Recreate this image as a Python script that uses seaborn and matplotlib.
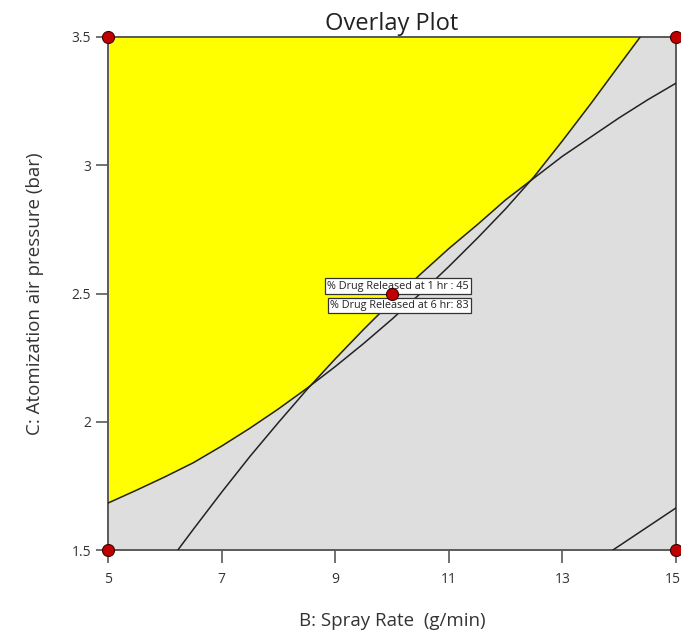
import matplotlib
matplotlib.use("Agg")
import matplotlib.pyplot as plt
from matplotlib.transforms import ScaledTranslation
import seaborn as sns
import pandas as pd

# Contour of the first response (sweeps up from the left edge)
contour_a_x = [5.0, 5.5, 6.0, 6.5, 7.0, 7.5, 8.0, 8.5, 9.0, 9.5, 10.0, 10.5,
               11.0, 11.5, 12.0, 12.5, 13.0, 13.5, 14.0, 14.37]
contour_a_y = [1.683, 1.733, 1.785, 1.84, 1.905, 1.975, 2.05, 2.13, 2.215, 2.305, 2.40, 2.50,
               2.605, 2.715, 2.83, 2.955, 3.095, 3.24, 3.39, 3.5]

# Contour of the second response (rises from the bottom edge)
contour_b_x = [6.23, 6.5, 7.0, 7.5, 8.0, 8.5, 9.0, 9.5, 10.0, 10.5, 11.0, 11.5,
               12.0, 12.5, 13.0, 13.5, 14.0, 14.5, 15.0]
contour_b_y = [1.5, 1.58, 1.725, 1.865, 1.997, 2.125, 2.245, 2.36, 2.47, 2.575, 2.675, 2.768,
               2.865, 2.95, 3.035, 3.11, 3.185, 3.255, 3.32]

# Limit contour in the high spray-rate / low pressure corner
contour_c_x = [13.89, 15.0]
contour_c_y = [1.5, 1.664]

# Where the two response contours cross
cross_lo, cross_hi = 8.55, 12.45

# Design points
design_x = [5, 5, 15, 15, 10]
design_y = [1.5, 3.5, 1.5, 3.5, 2.5]

# Flagged point and its readouts
flag_x, flag_y = 10, 2.5
flag_labels = ["% Drug Released at 1 hr : 45", "% Drug Released at 6 hr: 83"]

x_ticks = [5, 7, 9, 11, 13, 15]
y_ticks = [1.5, 2, 2.5, 3, 3.5]
y_tick_labels = ["1.5", "2", "2.5", "3", "3.5"]

sns.set_theme(style="ticks")
plt.rcParams["font.family"] = ["Open Sans", "DejaVu Sans"]

fig = plt.figure(figsize=(6.81, 6.33), dpi=100)
ax = fig.add_axes([108 / 681, 1 - 550 / 633, 568 / 681, 513 / 633])
ax.set_facecolor("#dedede")

# Yellow design space: above both response contours
edge_x, edge_y = [], []
for x, y in zip(contour_a_x, contour_a_y):
    if x <= cross_lo:
        edge_x.append(x); edge_y.append(y)
for x, y in zip(contour_b_x, contour_b_y):
    if cross_lo < x < cross_hi:
        edge_x.append(x); edge_y.append(y)
for x, y in zip(contour_a_x, contour_a_y):
    if x >= cross_hi:
        edge_x.append(x); edge_y.append(y)
ax.fill_between(edge_x, edge_y, 3.5, color="#ffff00", linewidth=0, zorder=1)

line_kw = dict(color="#222222", linewidth=1.1, sort=False, estimator=None, zorder=3)
sns.lineplot(x=contour_a_x, y=contour_a_y, ax=ax, **line_kw)
sns.lineplot(x=contour_b_x, y=contour_b_y, ax=ax, **line_kw)
sns.lineplot(x=contour_c_x, y=contour_c_y, ax=ax, **line_kw)

pts = pd.DataFrame({"x": design_x, "y": design_y})
sns.scatterplot(data=pts, x="x", y="y", ax=ax, s=75, color="#c00000",
                edgecolor="#400000", linewidth=0.8, zorder=5, clip_on=False)

box = dict(boxstyle="square,pad=0.2", fc="white", ec="#333333", lw=0.9)
ax.annotate(flag_labels[0], (flag_x, flag_y), xytext=(4.5, 5.3), textcoords="offset points",
            ha="center", va="center", fontsize=7.8, bbox=box, zorder=4, color="#222222")
ax.annotate(flag_labels[1], (flag_x, flag_y), xytext=(5.6, -8.4), textcoords="offset points",
            ha="center", va="center", fontsize=7.8, bbox=box, zorder=4, color="#222222")

ax.set_xlim(5, 15)
ax.set_ylim(1.5, 3.5)
ax.set_xticks(x_ticks)
ax.set_xticklabels([str(t) for t in x_ticks])
ax.set_yticks(y_ticks)
ax.set_yticklabels(y_tick_labels)

for side in ["left", "right", "top", "bottom"]:
    ax.spines[side].set_color("#5a5a5a")
    ax.spines[side].set_linewidth(1.4)
    ax.spines[side].set_zorder(2)
ax.tick_params(axis="both", direction="out", length=9, width=1.2, color="#5a5a5a",
               labelsize=10, labelcolor="#333333")
ax.tick_params(axis="x", pad=7)
ax.tick_params(axis="y", pad=3)

# keep the last x tick label inside the canvas
last = ax.get_xticklabels()[-1]
last.set_transform(last.get_transform() + ScaledTranslation(-3 / 100, 0, fig.dpi_scale_trans))

ax.set_xlabel("B: Spray Rate  (g/min)", fontsize=13.5, color="#333333", labelpad=18)
ax.set_ylabel("C: Atomization air pressure (bar)", fontsize=13.5, color="#333333", labelpad=20)
ax.set_title("Overlay Plot", fontsize=17, color="#222222", pad=5)

fig.savefig("out.png", dpi=100)
